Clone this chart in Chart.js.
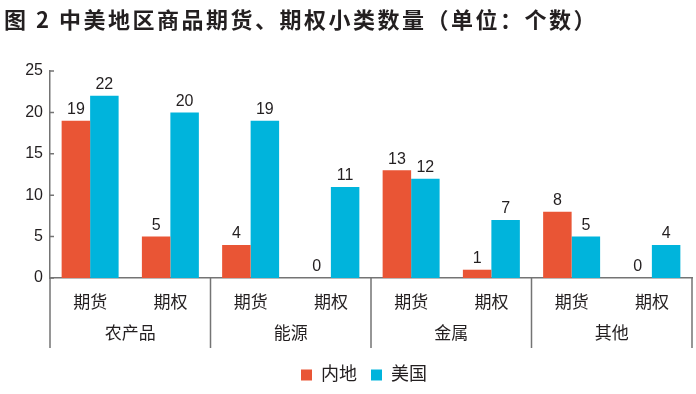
<!DOCTYPE html>
<html>
<head>
<meta charset="utf-8">
<script src="https://cdn.jsdelivr.net/npm/chart.js@4.4.0/dist/chart.umd.min.js"></script>
<style>
html, body { margin: 0; padding: 0; background: #fff; }
#contenedor { position: relative; width: 696px; height: 394px; }
#titulo {
    position: absolute; left: 4px; top: 5px;
    font: bold 22px/26px 'Noto Sans CJK SC', sans-serif;
    letter-spacing: 2.5px; color: #231f20; white-space: nowrap;
}
</style>
</head>
<body>
<div id="contenedor">
    <div id="titulo"></div>
    <canvas id="grafica-categorias"></canvas>
</div>
<script>
// datos
var titulo = '图 2  中美地区商品期货、期权小类数量（单位：个数）';
var categorias = ['期货', '期权', '期货', '期权', '期货', '期权', '期货', '期权'];
var grupos = ['农产品', '能源', '金属', '其他'];
var serieNeidi = [19, 5, 4, 0, 13, 1, 8, 0];
var serieMeiguo = [22, 20, 19, 11, 12, 7, 5, 4];
var nombresSeries = ['内地', '美国'];
var marcasY = [0, 5, 10, 15, 20, 25];

var fuente = "'Liberation Sans', 'Noto Sans CJK SC', sans-serif";
var colorTexto = '#231f20';
var colorEje = '#747474';

document.getElementById('titulo').textContent = titulo;

// numeros encima de cada barra
var etiquetasValor = {
    id: 'etiquetasValor',
    afterDatasetsDraw: function(chart) {
        var ctx = chart.ctx;
        ctx.save();
        ctx.font = '16px ' + fuente;
        ctx.fillStyle = colorTexto;
        ctx.textAlign = 'center';
        ctx.textBaseline = 'bottom';
        chart.data.datasets.forEach(function(ds, i) {
            chart.getDatasetMeta(i).data.forEach(function(barra, j) {
                ctx.fillText(ds.data[j], barra.x, barra.y - 3);
            });
        });
        ctx.restore();
    }
};

// separadores de grupos y marcas del eje y hacia dentro
var separadores = {
    id: 'separadores',
    afterLayout: function(chart) {
        // la leyenda esta algo corrida a la derecha en el original
        chart.legend.left += 16;
        chart.legend.right += 16;
    },
    afterDraw: function(chart) {
        var ctx = chart.ctx;
        var x = chart.scales.x;
        var y = chart.scales.y;
        var n = categorias.length;
        var fondo = y.bottom + 70;
        ctx.save();
        ctx.strokeStyle = colorEje;
        ctx.lineWidth = 1.5;
        ctx.beginPath();
        for (var k = 0; k <= n; k += 2) {
            var px;
            if (k === 0) px = x.left;
            else if (k === n) px = x.right;
            else px = (x.getPixelForValue(k - 1) + x.getPixelForValue(k)) / 2;
            ctx.moveTo(px, y.bottom);
            ctx.lineTo(px, fondo);
        }
        marcasY.forEach(function(v) {
            var py = y.getPixelForValue(v);
            ctx.moveTo(y.right, py);
            ctx.lineTo(y.right + 4, py);
        });
        ctx.stroke();
        ctx.restore();
    }
};

var datos = {
    labels: categorias,
    datasets: [
        {
            label: nombresSeries[0],
            data: serieNeidi,
            backgroundColor: '#e95535',
            xAxisID: 'x',
            categoryPercentage: 0.71,
            barPercentage: 1.0
        }, {
            label: nombresSeries[1],
            data: serieMeiguo,
            backgroundColor: '#00b4dc',
            xAxisID: 'x',
            categoryPercentage: 0.71,
            barPercentage: 1.0
        }
    ]
};

var opciones = {
    responsive: true,
    maintainAspectRatio: false,
    animation: false,
    layout: { padding: { left: 4, right: 4, top: 71, bottom: 0 } },
    scales: {
        y: {
            min: 0,
            max: 25,
            afterFit: function(s) { s.width = 46; },
            afterBuildTicks: function(s) {
                s.ticks = marcasY.map(function(v) { return { value: v }; });
            },
            grid: { display: false, drawTicks: false },
            border: { display: true, color: colorEje, width: 1.5 },
            ticks: { padding: 7, color: colorTexto, font: { family: fuente, size: 16 } }
        },
        x: {
            position: 'bottom',
            afterFit: function(s) { s.height = 39; },
            grid: { display: false, drawTicks: false },
            border: { display: true, color: colorEje, width: 1.5 },
            ticks: { padding: 15, color: colorTexto, maxRotation: 0, autoSkip: false, font: { family: fuente, size: 17 } }
        },
        x2: {
            type: 'category',
            position: 'bottom',
            labels: grupos,
            offset: true,
            afterFit: function(s) { s.height = 35; },
            grid: { display: false, drawTicks: false },
            border: { display: false },
            ticks: { padding: 7, color: colorTexto, maxRotation: 0, autoSkip: false, font: { family: fuente, size: 17 } }
        }
    },
    plugins: {
        title: { display: false },
        legend: {
            position: 'bottom',
            labels: {
                color: colorTexto,
                boxWidth: 11,
                boxHeight: 11,
                padding: 14,
                font: { family: fuente, size: 18 }
            }
        },
        tooltip: { enabled: false }
    }
};

var ctx = document.getElementById('grafica-categorias').getContext('2d');
new Chart(ctx, { type: 'bar', data: datos, options: opciones, plugins: [etiquetasValor, separadores] });
</script>
</body>
</html>
